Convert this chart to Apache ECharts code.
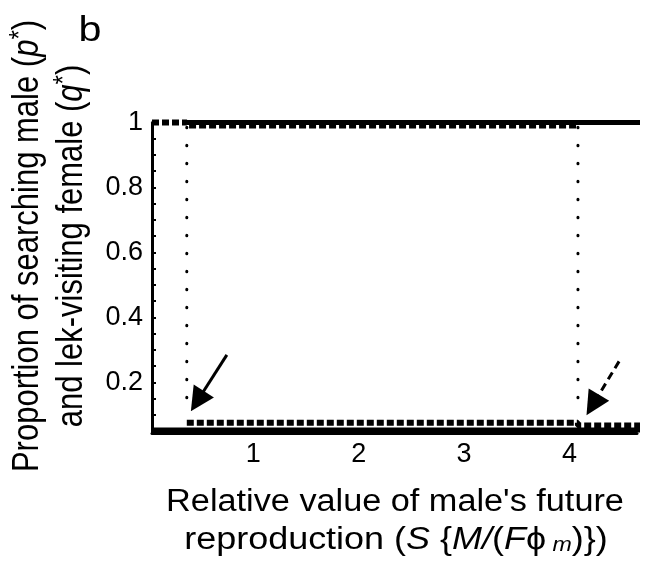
<!DOCTYPE html>
<html>
<head>
<meta charset="utf-8">
<script src="https://cdn.jsdelivr.net/npm/echarts@6/dist/echarts.min.js"></script>
<style>
  html, body { margin: 0; padding: 0; background: #fff; }
  #chart { width: 647px; height: 574px; }
</style>
</head>
<body>
<div id="chart"></div>
<script>
// equilibrium branches, x = S{M/(F phi m)}
const pUpper = [[0.37, 1], [4.68, 1]];
const pLower = [[0.04, 0.054], [4.68, 0.054]];
const qUpper = [[0.04, 1], [0.37, 1], [0.37, 0.991], [4.08, 0.991]];
const qLower = [[0.37, 0.076], [4.08, 0.076], [4.08, 0.068], [4.68, 0.068]];
// thresholds (dotted) and the two arrows
const thresholdLow = [[0.37, 0.985], [0.37, 0.11]];
const thresholdHigh = [[4.08, 0.985], [4.08, 0.11]];
const arrowSolid = [[0.75, 0.285], [0.47, 0.143]];
const arrowDashed = [[4.47, 0.265], [4.22, 0.131]];
// axes
const xLabels = [1, 2, 3, 4];
const yLabels = [0.2, 0.4, 0.6, 0.8, 1];
const yTicks = [0.05, 0.1, 0.15, 0.2, 0.25, 0.3, 0.35, 0.4, 0.45, 0.5,
                0.55, 0.6, 0.65, 0.7, 0.75, 0.8, 0.85, 0.9, 0.95, 1];

const FONT = 'Liberation Sans';
const chart = echarts.init(document.getElementById('chart'));

function branch(data, dash, width, cap) {
    return {
        type: 'line',
        data: data,
        symbol: 'none',
        clip: false,
        silent: true,
        lineStyle: { color: '#000', width: width, type: dash, cap: cap || 'butt' }
    };
}
function arrow(coords, dash) {
    return {
        type: 'lines',
        coordinateSystem: 'cartesian2d',
        silent: true,
        symbol: ['none', 'triangle'],
        symbolSize: 24,
        lineStyle: { color: '#000', width: 3, type: dash, opacity: 1 },
        data: [{ coords: coords }]
    };
}
function label(text, x, y, size, sx, rich) {
    return {
        type: 'text', x: x, y: y, scaleX: sx,
        style: {
            text: text, fontSize: size, fontFamily: FONT, fill: '#000',
            align: 'center', verticalAlign: 'middle', textAlign: 'center', textVerticalAlign: 'middle',
            rich: rich
        }
    };
}

const italic = { fontSize: 31, fontFamily: FONT, fontStyle: 'italic', fill: '#000' };

chart.setOption({
    animation: false,
    backgroundColor: '#fff',
    grid: { left: 152, right: 10, top: 122.5, bottom: 141 },
    xAxis: {
        type: 'value',
        min: 0.04,
        max: 4.64,
        splitLine: { show: false },
        axisLine: { onZero: false, lineStyle: { color: '#000', width: 3 } },
        axisTick: { inside: true, length: 5, customValues: xLabels, lineStyle: { color: '#000', width: 2 } },
        axisLabel: { customValues: xLabels, color: '#000', fontSize: 27, fontFamily: FONT, margin: 8 }
    },
    yAxis: {
        type: 'value',
        min: 0.0446,
        max: 1,
        splitLine: { show: false },
        axisLine: { onZero: false, lineStyle: { color: '#000', width: 3 } },
        axisTick: { inside: true, length: 4, customValues: yTicks, lineStyle: { color: '#000', width: 2 } },
        axisLabel: { customValues: yLabels, color: '#000', fontSize: 27, fontFamily: FONT, margin: 9 }
    },
    graphic: [
        label('b', 90, 31, 35, 1.18),
        {
            type: 'text', x: 50, y: 246, rotation: Math.PI / 2, scaleY: 1.18,
            style: {
                text: 'Proportion of searching male ({i|p}{s|*})\nand lek-visiting female ({i|q}{s|*})',
                fontSize: 31, fontFamily: FONT, fill: '#000', lineHeight: 37,
                align: 'center', verticalAlign: 'middle', textAlign: 'center', textVerticalAlign: 'middle',
                rich: {
                    i: Object.assign({ lineHeight: 37 }, italic),
                    s: { fontSize: 24, fontFamily: FONT, fill: '#000', verticalAlign: 'top', lineHeight: 37 }
                }
            }
        },
        label("Relative value of male's future", 395, 502, 31, 1.105),
        label('reproduction ({i|S} {{i|M/}({i|F}\u03d5{m| m})})', 396, 540, 31, 1.16, {
            i: italic,
            m: { fontSize: 20, fontFamily: FONT, fontStyle: 'italic', fill: '#000', verticalAlign: 'bottom' }
        })
    ],
    series: [
        branch(pUpper, 'solid', 5),
        branch(pLower, 'solid', 5),
        branch(qUpper, [7, 3], 6),
        branch(qLower, [7, 3], 6),
        branch(thresholdLow, [0.5, 17.5], 3, 'round'),
        branch(thresholdHigh, [0.5, 17.5], 3, 'round'),
        arrow(arrowSolid, 'solid'),
        arrow(arrowDashed, [8, 5])
    ]
});
</script>
</body>
</html>
